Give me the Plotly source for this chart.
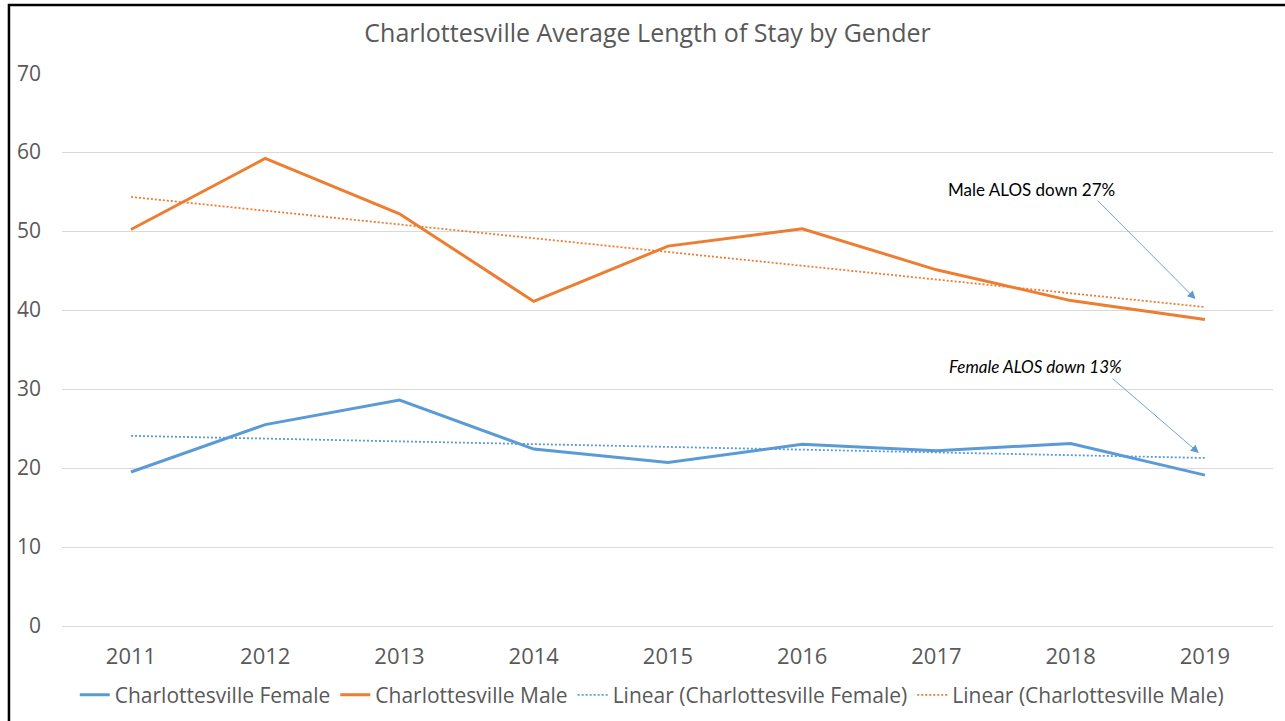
import numpy as np
import plotly.graph_objects as go

years = [2011, 2012, 2013, 2014, 2015, 2016, 2017, 2018, 2019]
female = [19.5, 25.5, 28.6, 22.4, 20.7, 23.0, 22.2, 23.1, 19.1]
male = [50.2, 59.2, 52.2, 41.1, 48.1, 50.3, 45.1, 41.2, 38.8]
y_ticks = [0, 10, 20, 30, 40, 50, 60, 70]

title_text = "Charlottesville Average Length of Stay by Gender"
male_note = "Male ALOS down 27%"
female_note = "<i>Female ALOS down 13%</i>"

BLUE = "#5B9BD5"
ORANGE = "#ED7D31"
GRAY = "#595959"
GRID = "#D9D9D9"

x_arr = np.array(years, dtype=float)
f_fit = np.polyfit(x_arr, np.array(female), 1)
m_fit = np.polyfit(x_arr, np.array(male), 1)
f_trend = np.polyval(f_fit, x_arr)
m_trend = np.polyval(m_fit, x_arr)

fig = go.Figure()
fig.add_trace(go.Scatter(x=years, y=female, mode="lines", name="Charlottesville Female",
                         line=dict(color=BLUE, width=3)))
fig.add_trace(go.Scatter(x=years, y=male, mode="lines", name="Charlottesville Male",
                         line=dict(color=ORANGE, width=3)))
fig.add_trace(go.Scatter(x=years, y=f_trend, mode="lines", name="Linear (Charlottesville Female)",
                         line=dict(color=BLUE, width=1.8, dash="2px,2px")))
fig.add_trace(go.Scatter(x=years, y=m_trend, mode="lines", name="Linear (Charlottesville Male)",
                         line=dict(color=ORANGE, width=1.8, dash="2px,2px")))

# annotation texts
fig.add_annotation(x=2017.71, y=55.3, xref="x", yref="y", text=male_note, showarrow=False,
                   font=dict(family="Lato", size=17, color="#000000"))
fig.add_annotation(x=2017.74, y=32.8, xref="x", yref="y", text=female_note, showarrow=False,
                   font=dict(family="Lato", size=17, color="#000000"))
# arrows
fig.add_annotation(x=2018.93, y=41.4, ax=2018.19, ay=54.05, xref="x", yref="y",
                   axref="x", ayref="y", text="", showarrow=True, arrowhead=2,
                   arrowsize=1.8, arrowwidth=0.9, arrowcolor=BLUE)
fig.add_annotation(x=2018.955, y=21.9, ax=2018.30, ay=31.5, xref="x", yref="y",
                   axref="x", ayref="y", text="", showarrow=True, arrowhead=2,
                   arrowsize=1.8, arrowwidth=0.9, arrowcolor=BLUE)

# outer frame
fig.add_shape(type="rect", xref="paper", yref="paper", x0=-0.0438, x1=1.03, y0=-0.19, y1=1.123,
              line=dict(color="#000000", width=2.5), fillcolor="rgba(0,0,0,0)", layer="above")

fig.update_layout(
    width=1285, height=721,
    margin=dict(l=62, r=12, t=73, b=95, autoexpand=False),
    paper_bgcolor="white", plot_bgcolor="white",
    title=dict(text=title_text, x=0.4835, xanchor="center", xref="paper", y=0.954, yanchor="middle",
               font=dict(family="Open Sans", size=25, color=GRAY)),
    showlegend=True,
    legend=dict(orientation="h", x=0.487, xanchor="center", y=-0.125, yanchor="middle",
                font=dict(family="Open Sans", size=21, color=GRAY),
                itemwidth=30, tracegroupgap=0, bgcolor="rgba(0,0,0,0)"),
    xaxis=dict(range=[2010.486, 2019.507], tickmode="array", tickvals=years,
               ticktext=[str(y) for y in years], showgrid=False, zeroline=False,
               showline=False, ticks="", ticklabelstandoff=15, automargin=False,
               tickfont=dict(family="Open Sans", size=22, color=GRAY)),
    yaxis=dict(range=[0, 70.02], tickmode="array", tickvals=y_ticks, showgrid=True,
               gridcolor=GRID, gridwidth=1, zeroline=True, zerolinecolor=GRID, zerolinewidth=1,
               showline=False, ticks="", ticklabelstandoff=20, automargin=False,
               tickfont=dict(family="Open Sans", size=21, color=GRAY)),
)

fig.write_html("out.html", config={"displayModeBar": False},
               post_script="document.body.style.margin='0px';document.body.style.padding='0px';")
